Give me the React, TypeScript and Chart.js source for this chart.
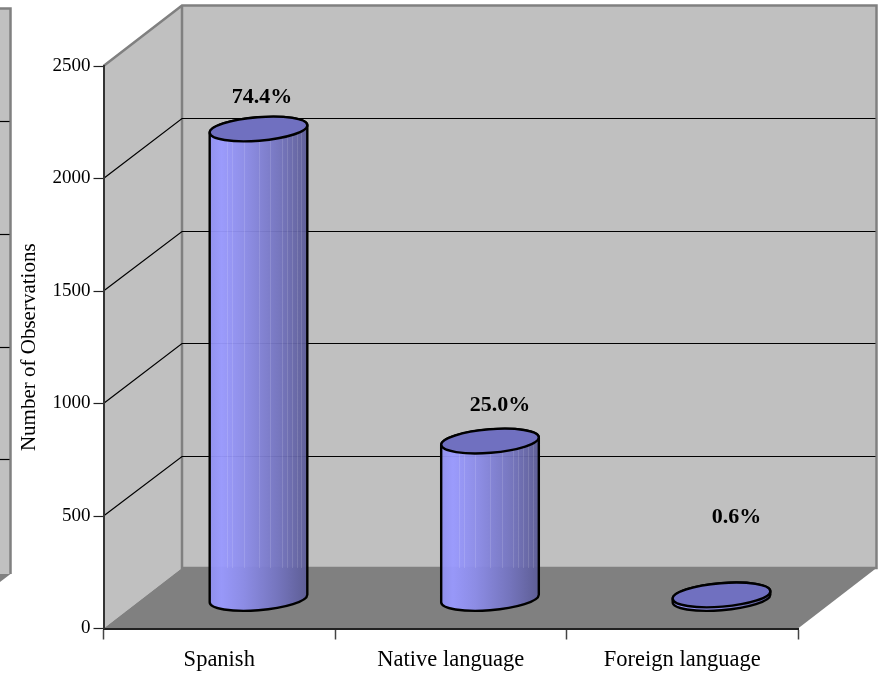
import React, { useEffect, useRef } from "react";
import { Chart, registerables } from "chart.js";

Chart.register(...registerables);

const categories = ["Spanish", "Native language", "Foreign language"];
const observations = [2089, 702, 18];
const shareLabels = ["74.4%", "25.0%", "0.6%"];
const yTicks = [0, 500, 1000, 1500, 2000, 2500];
const yTitle = "Number of Observations";

const SERIF = "'Liberation Serif', 'Times New Roman', serif";
const DEPTH_X = 78.5;
const DEPTH_Y = 60.5;
const CYL_LIFT = 29.5;
const labelShift = [
  { x: 3.5, y: -32 },
  { x: 10, y: -35.5 },
  { x: 15, y: -77.5 },
];
const stripeStops = [0.18, 0.23, 0.35, 0.5, 0.62, 0.74, 0.79, 0.84, 0.89, 0.94];

const walls3d = {
  id: "walls3d",
  beforeDraw(chart: any) {
    const { ctx, chartArea: a, scales } = chart;
    const y = scales.y;
    const top = a.top;
    const bot = a.bottom;
    const l = a.left;
    const r = a.right;
    ctx.save();

    // edge of the neighbouring panel at the left border
    ctx.fillStyle = "#c0c0c0";
    ctx.fillRect(-4, 8.5, 14.5, 565.5);
    ctx.fillStyle = "#808080";
    ctx.beginPath();
    ctx.moveTo(-4, 574);
    ctx.lineTo(10.5, 574);
    ctx.lineTo(-4, 585);
    ctx.closePath();
    ctx.fill();
    ctx.strokeStyle = "#808080";
    ctx.lineWidth = 2.5;
    ctx.beginPath();
    ctx.moveTo(-4, 8.5);
    ctx.lineTo(10.5, 8.5);
    ctx.lineTo(10.5, 574);
    ctx.stroke();
    ctx.strokeStyle = "#000";
    ctx.lineWidth = 1.2;
    yTicks.slice(1, -1).forEach((v) => {
      const py = Math.round(y.getPixelForValue(v) - DEPTH_Y + 3 + (2000 - v) * 0.0006) + 0.5;
      ctx.beginPath();
      ctx.moveTo(0, py);
      ctx.lineTo(9.5, py);
      ctx.stroke();
    });

    // back wall
    ctx.fillStyle = "#c0c0c0";
    ctx.fillRect(l + DEPTH_X, top - DEPTH_Y, r - l, bot - top);
    // side wall
    ctx.beginPath();
    ctx.moveTo(l, bot);
    ctx.lineTo(l, top);
    ctx.lineTo(l + DEPTH_X, top - DEPTH_Y);
    ctx.lineTo(l + DEPTH_X, bot - DEPTH_Y);
    ctx.closePath();
    ctx.fill();
    // floor
    ctx.fillStyle = "#808080";
    ctx.beginPath();
    ctx.moveTo(l, bot);
    ctx.lineTo(r, bot);
    ctx.lineTo(r + DEPTH_X, bot - DEPTH_Y);
    ctx.lineTo(l + DEPTH_X, bot - DEPTH_Y);
    ctx.closePath();
    ctx.fill();

    // wall outlines
    ctx.strokeStyle = "#808080";
    ctx.lineWidth = 2.5;
    ctx.beginPath();
    ctx.moveTo(l, top);
    ctx.lineTo(l + DEPTH_X, top - DEPTH_Y);
    ctx.lineTo(r + DEPTH_X, top - DEPTH_Y);
    ctx.lineTo(r + DEPTH_X, bot - DEPTH_Y);
    ctx.lineTo(l + DEPTH_X, bot - DEPTH_Y);
    ctx.lineTo(l + DEPTH_X, top - DEPTH_Y);
    ctx.stroke();

    // grid lines on both walls
    ctx.strokeStyle = "#000";
    ctx.lineWidth = 1.2;
    yTicks.slice(1, -1).forEach((v) => {
      const py = y.getPixelForValue(v);
      const backY = Math.round(py - DEPTH_Y) + 0.5;
      ctx.beginPath();
      ctx.moveTo(l, py);
      ctx.lineTo(l + DEPTH_X, backY);
      ctx.lineTo(r + DEPTH_X - 1, backY);
      ctx.stroke();
    });
    ctx.restore();
  },
};

function cylinderPaths(cx: number, yTop: number, yBase: number, rx: number) {
  const ry = rx * 0.24;
  const rot = -0.08;
  const t0 = Math.atan((ry / rx) * Math.tan(-rot));
  const ex = rx * Math.cos(t0) * Math.cos(rot) - ry * Math.sin(t0) * Math.sin(rot);
  const ey = rx * Math.cos(t0) * Math.sin(rot) + ry * Math.sin(t0) * Math.cos(rot);
  const body = new Path2D();
  body.moveTo(cx - ex, yTop - ey);
  body.lineTo(cx - ex, yBase - ey);
  body.ellipse(cx, yBase, rx, ry, rot, t0 + Math.PI, t0, true);
  body.lineTo(cx + ex, yTop + ey);
  body.ellipse(cx, yTop, rx, ry, rot, t0, t0 + Math.PI, true);
  body.closePath();
  const cap = new Path2D();
  cap.ellipse(cx, yTop, rx, ry, rot, 0, Math.PI * 2);
  return { body, cap, ex };
}

const cylinders3d = {
  id: "cylinders3d",
  afterDatasetsDraw(chart: any) {
    const { ctx, scales } = chart;
    const meta = chart.getDatasetMeta(0);
    const floorBack = scales.y.getPixelForValue(0) - DEPTH_Y;
    ctx.save();
    meta.data.forEach((bar: any, i: number) => {
      const cx = bar.x + DEPTH_X / 2;
      const yTop = bar.y - CYL_LIFT;
      const yBase = bar.base - CYL_LIFT;
      const rx = bar.width / 2;
      const { body, cap, ex } = cylinderPaths(cx, yTop, yBase, rx);

      const grad = ctx.createLinearGradient(cx - ex, 0, cx + ex, 0);
      grad.addColorStop(0, "#9090f0");
      grad.addColorStop(0.12, "#9999ff");
      grad.addColorStop(0.35, "#8d8dea");
      grad.addColorStop(0.7, "#7474c0");
      grad.addColorStop(1, "#5c5c96");
      ctx.globalAlpha = 0.95;
      ctx.fillStyle = grad;
      ctx.fill(body);
      ctx.globalAlpha = 1;

      ctx.save();
      ctx.clip(body);
      ctx.strokeStyle = "rgba(255,255,255,0.13)";
      ctx.lineWidth = 1;
      stripeStops.forEach((f) => {
        const sx = Math.round(cx - ex + f * 2 * ex) + 0.5;
        ctx.beginPath();
        ctx.moveTo(sx, yTop);
        ctx.lineTo(sx, floorBack);
        ctx.stroke();
      });
      ctx.restore();

      ctx.strokeStyle = "#000";
      ctx.lineWidth = 2.4;
      ctx.stroke(body);
      ctx.fillStyle = "#7070c0";
      ctx.fill(cap);
      ctx.stroke(cap);

      ctx.fillStyle = "#000";
      ctx.font = `bold 22px ${SERIF}`;
      ctx.textAlign = "center";
      ctx.textBaseline = "middle";
      ctx.fillText(shareLabels[i], cx + labelShift[i].x, yTop + labelShift[i].y);
    });
    ctx.restore();
  },
};

export default function App() {
  const ref = useRef<HTMLCanvasElement>(null);
  useEffect(() => {
    const chart = new Chart(ref.current as HTMLCanvasElement, {
      type: "bar",
      data: {
        labels: categories,
        datasets: [
          {
            data: observations,
            backgroundColor: "rgba(0,0,0,0)",
            borderWidth: 0,
            barPercentage: 0.423,
            categoryPercentage: 1,
          },
        ],
      },
      plugins: [walls3d, cylinders3d],
      options: {
        responsive: false,
        animation: false,
        layout: { padding: { left: 0, right: 84, top: 66, bottom: 0 } },
        plugins: { legend: { display: false }, tooltip: { enabled: false } },
        scales: {
          x: {
            type: "category",
            afterFit(s: any) {
              s.height = 44.5;
            },
            border: { display: true, color: "#222", width: 2 },
            grid: { offset: true, drawOnChartArea: false, drawTicks: true, tickLength: 11, tickColor: "#444", tickWidth: 1.5 },
            ticks: { color: "#000", font: { family: SERIF, size: 22.5 }, padding: 7, maxRotation: 0, autoSkip: false },
          },
          y: {
            type: "linear",
            min: 0,
            max: 2500,
            afterFit(s: any) {
              s.width = 103.5;
            },
            afterBuildTicks(s: any) {
              s.ticks = yTicks.map((value) => ({ value }));
            },
            border: { display: true, color: "#333", width: 2 },
            grid: { drawOnChartArea: false, drawTicks: true, tickLength: 10, tickColor: "#222", tickWidth: 1.2 },
            ticks: {
              color: "#000",
              font: { family: SERIF, size: 19 },
              padding: 3,
              callback: (v: any) => String(v),
            },
            title: {
              display: true,
              text: yTitle,
              color: "#000",
              font: { family: SERIF, size: 21, weight: "normal" },
              padding: { top: 17, bottom: 0 },
            },
          },
        },
      },
    } as any);
    return () => chart.destroy();
  }, []);
  return (
    <div style={{ position: "fixed", left: 0, top: 0, width: 882, height: 673, background: "#fff" }}>
      <canvas ref={ref} width={882} height={673} style={{ display: "block" }} />
    </div>
  );
}
